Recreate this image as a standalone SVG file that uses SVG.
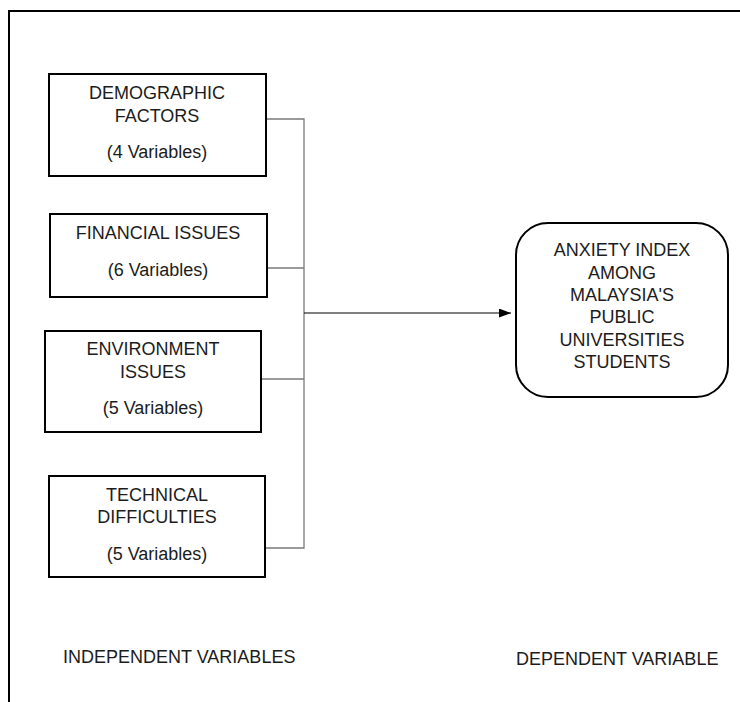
<svg xmlns="http://www.w3.org/2000/svg" width="740" height="702" viewBox="0 0 740 702">
<style>
.box{fill:#fff;stroke:#000;stroke-width:2}
.t{font-family:"Liberation Sans",Arial,sans-serif;font-size:18px;fill:#1c1c1c;text-anchor:middle}
.lbl{font-family:"Liberation Sans",Arial,sans-serif;font-size:18px;fill:#1c1c1c}
.c{fill:none;stroke:#7a7a7a;stroke-width:1.3}
.a{fill:none;stroke:#000;stroke-width:1.2}
</style>
<defs>
<marker id="ah" markerWidth="12" markerHeight="9" refX="12" refY="4.5" orient="auto" markerUnits="userSpaceOnUse">
<path d="M0,0 L12,4.5 L0,9 Z" fill="#000"/>
</marker>
</defs>
<rect width="740" height="702" fill="#fff"/>
<path d="M9,702 V11 H740" fill="none" stroke="#000" stroke-width="2"/>
<g id="connectors">
<path class="c" d="M266,119 H304 V548 H265"/>
<path class="c" d="M267,268 H304"/>
<path class="c" d="M261,379 H304"/>
<path class="a" d="M304,313 H511" marker-end="url(#ah)"/>
</g>
<g id="demographic">
<rect class="box" x="49" y="74" width="217" height="102"/>
<text class="t" x="157" y="99">DEMOGRAPHIC</text>
<text class="t" x="157" y="122">FACTORS</text>
<text class="t" x="157" y="158">(4 Variables)</text>
</g>
<g id="financial">
<rect class="box" x="50" y="214" width="217" height="83"/>
<text class="t" x="158" y="239">FINANCIAL ISSUES</text>
<text class="t" x="158" y="276">(6 Variables)</text>
</g>
<g id="environment">
<rect class="box" x="45" y="331" width="216" height="101"/>
<text class="t" x="153" y="355">ENVIRONMENT</text>
<text class="t" x="153" y="378">ISSUES</text>
<text class="t" x="153" y="414">(5 Variables)</text>
</g>
<g id="technical">
<rect class="box" x="49" y="476" width="216" height="101"/>
<text class="t" x="157" y="501">TECHNICAL</text>
<text class="t" x="157" y="523">DIFFICULTIES</text>
<text class="t" x="157" y="560">(5 Variables)</text>
</g>
<g id="anxiety">
<rect class="box" x="516" y="223" width="212" height="174" rx="32" ry="32"/>
<text class="t" x="622" y="256">ANXIETY INDEX</text>
<text class="t" x="622" y="279">AMONG</text>
<text class="t" x="622" y="301">MALAYSIA'S</text>
<text class="t" x="622" y="323">PUBLIC</text>
<text class="t" x="622" y="346">UNIVERSITIES</text>
<text class="t" x="622" y="368">STUDENTS</text>
</g>
<g id="labels">
<text class="lbl" x="63" y="663">INDEPENDENT VARIABLES</text>
<text class="lbl" x="516" y="665">DEPENDENT VARIABLE</text>
</g>
</svg>
